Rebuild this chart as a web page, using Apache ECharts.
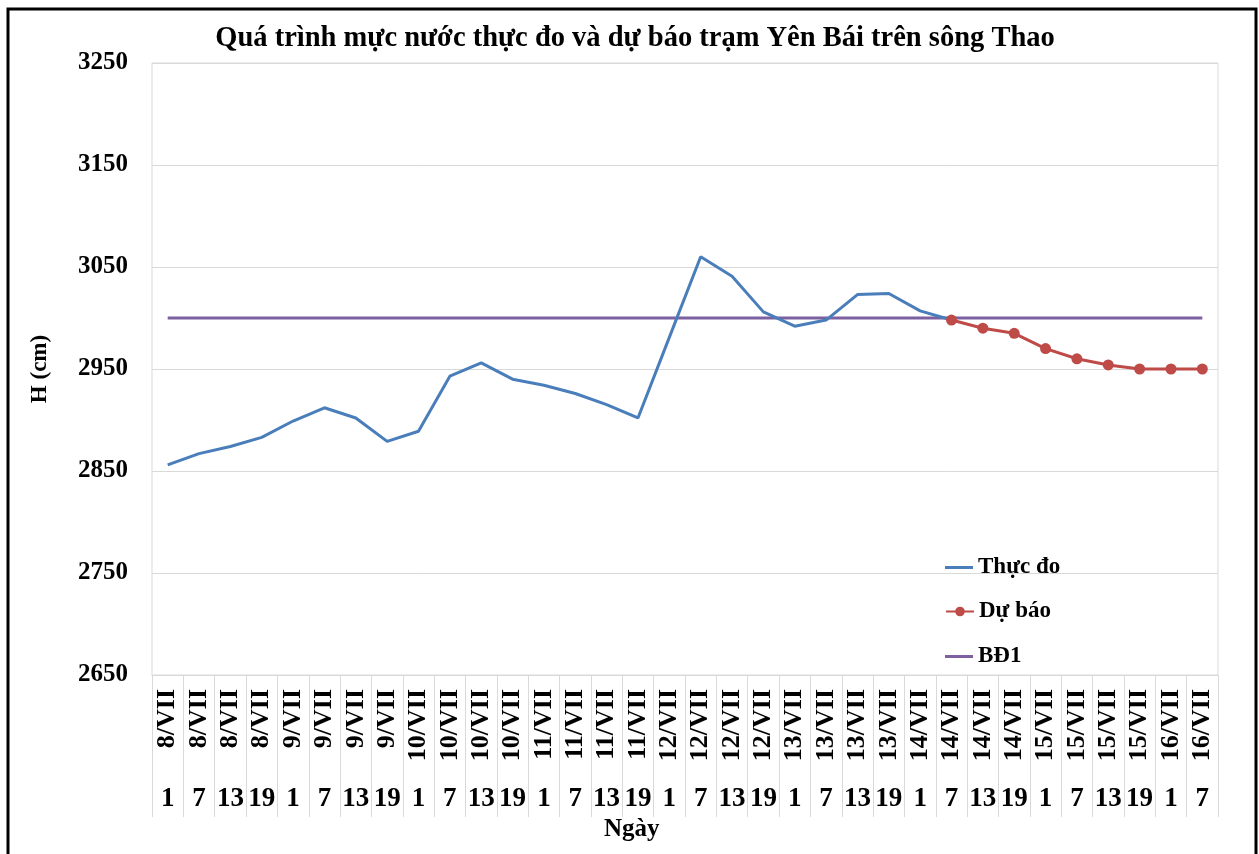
<!DOCTYPE html>
<html><head><meta charset="utf-8">
<script src="https://cdn.jsdelivr.net/npm/echarts@6/dist/echarts.min.js"></script>
<style>html,body{margin:0;padding:0;background:#fff}#c{width:1259px;height:854px}</style>
</head><body><div id="c"></div>
<script>
const days = ['8/VII','8/VII','8/VII','8/VII','9/VII','9/VII','9/VII','9/VII','10/VII','10/VII','10/VII','10/VII','11/VII','11/VII','11/VII','11/VII','12/VII','12/VII','12/VII','12/VII','13/VII','13/VII','13/VII','13/VII','14/VII','14/VII','14/VII','14/VII','15/VII','15/VII','15/VII','15/VII','16/VII','16/VII'];
const hours = ['1','7','13','19','1','7','13','19','1','7','13','19','1','7','13','19','1','7','13','19','1','7','13','19','1','7','13','19','1','7','13','19','1','7'];
const thucDo = [2856,2867,2874,2883,2899,2912,2902,2879,2889,2943,2956,2940,2934,2926,2915,2902,2981,3060,3041,3006,2992,2998,3023,3024,3007,2998,null,null,null,null,null,null,null,null];
const duBao = [null,null,null,null,null,null,null,null,null,null,null,null,null,null,null,null,null,null,null,null,null,null,null,null,null,2998,2990,2985,2970,2960,2954,2950,2950,2950];
const bd1 = [3000,3000,3000,3000,3000,3000,3000,3000,3000,3000,3000,3000,3000,3000,3000,3000,3000,3000,3000,3000,3000,3000,3000,3000,3000,3000,3000,3000,3000,3000,3000,3000,3000,3000];
const yTicks = {min:2650, max:3250, interval:100};

const font = '"Liberation Serif", "Times New Roman", serif';
const legTxt = {fontFamily:font, fontWeight:'bold', fontSize:23, color:'#000'};
const chart = echarts.init(document.getElementById('c'));
chart.setOption({
  backgroundColor:'#fff',
  animation:false,
  title:{text:'Quá trình mực nước thực đo và dự báo trạm Yên Bái trên sông Thao', left:630, textAlign:'center', top:19,
    textStyle:{fontFamily:font, fontWeight:'bold', fontSize:28.5, color:'#000'}},
  grid:{left:152, right:41, top:63, bottom:179, show:true, borderColor:'#d9d9d9', borderWidth:1},
  legend:[
    {left:945, top:556, padding:0, itemWidth:28, itemHeight:3, icon:'rect', textStyle:legTxt, data:['Thực đo']},
    {left:945, top:600, padding:0, itemWidth:28, itemHeight:12, textStyle:legTxt, data:['Dự báo']},
    {left:945, top:645, padding:0, itemWidth:28, itemHeight:3, icon:'rect', textStyle:legTxt, data:['BĐ1']}
  ],
  xAxis:[{
    type:'category', data:days, boundaryGap:true,
    axisLine:{lineStyle:{color:'#d9d9d9'}},
    axisTick:{show:true, interval:0, length:142, lineStyle:{color:'#d9d9d9'}},
    axisLabel:{interval:0, rotate:90, margin:14, fontFamily:font, fontWeight:'bold', fontSize:26, color:'#000'}
  },{
    type:'category', data:hours, boundaryGap:true, position:'bottom',
    axisLine:{show:false}, axisTick:{show:false},
    axisLabel:{interval:0, margin:111, fontFamily:font, fontWeight:'bold', fontSize:27, color:'#000'}
  }],
  yAxis:{type:'value', min:yTicks.min, max:yTicks.max, interval:yTicks.interval,
    name:'H (cm)', nameLocation:'middle', nameGap:100, nameRotate:90,
    nameTextStyle:{fontFamily:font, fontWeight:'bold', fontSize:23, color:'#000'},
    axisLine:{show:false}, axisTick:{show:false},
    axisLabel:{margin:24, fontFamily:font, fontWeight:'bold', fontSize:25, color:'#000', formatter:(v)=>String(v)},
    splitLine:{lineStyle:{color:'#d9d9d9'}}},
  graphic:[
    {type:'text', left:604, top:817, style:{text:'Ngày', font:'bold 25px "Liberation Serif", serif', fill:'#000'}},
    {type:'rect', shape:{x:8, y:9, width:1248, height:900}, style:{fill:'none', stroke:'#000', lineWidth:3}, silent:true}
  ],
  series:[
    {name:'Thực đo', type:'line', data:thucDo, showSymbol:false, symbol:'none', lineStyle:{color:'#4a7ebb', width:3}, itemStyle:{color:'#4a7ebb'}, z:3},
    {name:'Dự báo', type:'line', data:duBao, symbol:'circle', symbolSize:11, lineStyle:{color:'#be4b48', width:3}, itemStyle:{color:'#be4b48'}, z:4},
    {name:'BĐ1', type:'line', data:bd1, symbol:'none', lineStyle:{color:'#7d60a0', width:3}, itemStyle:{color:'#7d60a0'}, z:2}
  ]
});
</script></body></html>
